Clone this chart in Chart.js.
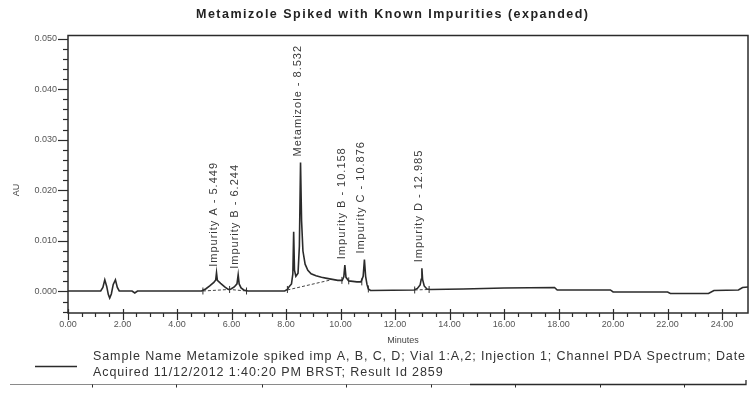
<!DOCTYPE html>
<html>
<head>
<meta charset="utf-8">
<title>Metamizole Spiked with Known Impurities (expanded)</title>
<script src="https://cdn.jsdelivr.net/npm/chart.js@4.4.1/dist/chart.umd.min.js"></script>
<style>
  html, body { margin: 0; padding: 0; background: #fff; }
  #wrap { width: 753px; height: 394px; }
</style>
</head>
<body>
<div id="wrap"><canvas id="chromChart" width="753" height="394"></canvas></div>
<script>
// PDA trace: retention time (min) and absorbance (AU)
const traceTime = [
  0.00, 1.20, 1.28, 1.35, 1.42, 1.48, 1.53, 1.59, 1.66, 1.74, 1.81, 1.88, 2.35, 2.45, 2.55,
  4.90, 5.05, 5.20, 5.35, 5.42, 5.449, 5.48, 5.60, 5.75, 5.88, 5.98, 6.10, 6.20, 6.244, 6.28, 6.35, 6.45, 6.60,
  7.95, 8.05, 8.12, 8.20, 8.25, 8.28, 8.31, 8.36, 8.44, 8.49, 8.532, 8.57, 8.62, 8.70, 8.80, 8.92,
  9.10, 9.30, 9.50, 9.70, 9.90, 10.06, 10.12, 10.158, 10.20, 10.30, 10.45, 10.60, 10.75, 10.83, 10.876,
  10.92, 10.97, 11.02, 11.10, 12.70, 12.82, 12.92, 12.96, 12.985, 13.01, 13.07, 13.17, 13.30,
  14.50, 16.00, 17.85, 17.95, 19.90, 20.00, 22.00, 22.10, 23.50, 23.70, 24.60, 24.75, 24.95
];
const traceAU = [
  0.0001, 0.0001, 0.0008, 0.0023, 0.0010, -0.0006, -0.0013, -0.0005, 0.0014, 0.0023, 0.0008, 0.0001, 0.0001, -0.0003, 0.0001,
  0.0001, 0.0005, 0.0011, 0.0018, 0.0023, 0.0037, 0.0022, 0.0016, 0.0009, 0.0004, 0.0005, 0.0009, 0.0015, 0.0033, 0.0015, 0.0007, 0.0003, 0.0001,
  0.0001, 0.0004, 0.0010, 0.0015, 0.0035, 0.0118, 0.0042, 0.0030, 0.0036, 0.0090, 0.0255, 0.0140, 0.0080, 0.0054, 0.0042, 0.0035,
  0.0031, 0.0028, 0.0026, 0.0024, 0.0022, 0.0022, 0.0029, 0.0052, 0.0028, 0.0021, 0.0020, 0.0019, 0.0019, 0.0030, 0.0063,
  0.0030, 0.0014, 0.0005, 0.0002, 0.0003, 0.0006, 0.0013, 0.0024, 0.0046, 0.0024, 0.0011, 0.0005, 0.0004,
  0.0005, 0.0007, 0.0008, 0.0003, 0.0003, -0.0001, -0.0001, -0.0004, -0.0004, 0.0002, 0.0003, 0.0008, 0.0009
];

// dashed integration baselines, null breaks between segments
const baseTime = [4.95, 5.93, 6.55, null, 8.05, 9.65, null, 12.72, 13.25];
const baseAU = [0.0001, 0.0004, 0.0001, null, 0.0003, 0.0023, null, 0.0003, 0.0004];

// peak start / end markers
const markTime = [4.95, 5.93, 6.55, 8.05, 10.05, 10.30, 10.78, 11.02, 12.72, 13.25];
const markAU = [0.0001, 0.0004, 0.0001, 0.0004, 0.0022, 0.0021, 0.0019, 0.0005, 0.0003, 0.0004];

// named peaks
const peakNames = ['Impurity A', 'Impurity B', 'Metamizole', 'Impurity B', 'Impurity C', 'Impurity D'];
const peakTimes = [5.449, 6.244, 8.532, 10.158, 10.876, 12.985];

const xTickValues = [0, 2, 4, 6, 8, 10, 12, 14, 16, 18, 20, 22, 24];
const yTickValues = [0, 0.010, 0.020, 0.030, 0.040, 0.050];

const titleText = 'Metamizole Spiked with Known Impurities (expanded)';
const legendLines = [
  'Sample Name Metamizole spiked imp A, B, C, D; Vial 1:A,2; Injection 1; Channel PDA Spectrum; Date',
  'Acquired 11/12/2012 1:40:20 PM BRST; Result Id 2859'
];

const FONT = '"Liberation Sans", Arial, sans-serif';
const INK = '#2b2b2b';

const trace = traceTime.map((t, i) => ({ x: t, y: traceAU[i] }));
const baselines = baseTime.map((t, i) => ({ x: t, y: baseAU[i] }));
const markers = markTime.map((t, i) => ({ x: t, y: markAU[i] }));
const peakApex = peakTimes.map(t => traceAU[traceTime.indexOf(t)]);

function spacedText(ctx, text, x, y, width) {
  ctx.letterSpacing = '0px';
  const w = ctx.measureText(text).width;
  const sp = width ? (width - w) / (text.length - 1) : 0;
  ctx.letterSpacing = sp + 'px';
  ctx.fillText(text, x, y);
  ctx.letterSpacing = '0px';
  return sp;
}

const decorations = {
  id: 'decorations',
  afterDraw(chart) {
    const { ctx, chartArea: a, scales: { x, y } } = chart;
    ctx.save();

    // plot frame
    ctx.strokeStyle = INK;
    ctx.lineWidth = 1.5;
    ctx.strokeRect(a.left, a.top, a.right - a.left, a.bottom - a.top);

    // y tick marks: major every 0.010, minor every 0.002
    ctx.lineWidth = 1.2;
    for (let v = -0.004; v <= 0.0505; v += 0.002) {
      const py = Math.round(y.getPixelForValue(v)) + 0.5;
      const major = Math.abs(v / 0.01 - Math.round(v / 0.01)) < 1e-6;
      ctx.beginPath();
      ctx.moveTo(a.left - (major ? 10 : 5), py);
      ctx.lineTo(a.left, py);
      ctx.stroke();
    }
    // x tick marks: major every 2 min, minor every 0.5 min
    for (let v = 0; v <= 24.9; v += 0.5) {
      const px = Math.round(x.getPixelForValue(v)) + 0.5;
      const major = Math.abs(v / 2 - Math.round(v / 2)) < 1e-6;
      ctx.beginPath();
      ctx.moveTo(px, a.bottom - (major ? 4 : 0));
      ctx.lineTo(px, a.bottom + (major ? 7 : 4));
      ctx.stroke();
    }

    // peak labels, rotated, sitting above each apex
    ctx.fillStyle = '#3a3a3a';
    ctx.font = '11px ' + FONT;
    ctx.textBaseline = 'middle';
    ctx.textAlign = 'left';
    peakNames.forEach((name, i) => {
      const px = x.getPixelForValue(peakTimes[i]);
      const py = y.getPixelForValue(peakApex[i]);
      ctx.save();
      ctx.translate(px - 3, py - 6);
      ctx.rotate(-Math.PI / 2);
      ctx.letterSpacing = '1px';
      ctx.fillText(name + ' - ' + peakTimes[i].toFixed(3), 0, 0);
      ctx.restore();
    });

    // title
    ctx.fillStyle = '#222';
    ctx.font = 'bold 12.5px ' + FONT;
    ctx.textAlign = 'left';
    ctx.textBaseline = 'alphabetic';
    spacedText(ctx, titleText, 196, 18, 392);

    // axis titles
    ctx.fillStyle = '#444';
    ctx.font = '9px ' + FONT;
    ctx.textAlign = 'center';
    ctx.textBaseline = 'middle';
    ctx.fillText('Minutes', 403, 341);
    ctx.save();
    ctx.translate(17, 190);
    ctx.rotate(-Math.PI / 2);
    ctx.fillText('AU', 0, 0);
    ctx.restore();

    // legend
    ctx.strokeStyle = INK;
    ctx.lineWidth = 1.3;
    ctx.beginPath();
    ctx.moveTo(35, 366.5);
    ctx.lineTo(77, 366.5);
    ctx.stroke();
    ctx.fillStyle = '#333';
    ctx.font = '12.5px ' + FONT;
    ctx.textAlign = 'left';
    ctx.textBaseline = 'alphabetic';
    const sp = spacedText(ctx, legendLines[0], 93, 360, 652);
    ctx.letterSpacing = sp + 'px';
    ctx.fillText(legendLines[1], 93, 376);
    ctx.letterSpacing = '0px';

    // top edge of the results table below
    ctx.strokeStyle = '#8a8a8a';
    ctx.lineWidth = 1;
    ctx.beginPath();
    ctx.moveTo(10, 384.5);
    ctx.lineTo(470, 384.5);
    ctx.stroke();
    ctx.strokeStyle = INK;
    ctx.lineWidth = 1.3;
    ctx.beginPath();
    ctx.moveTo(470, 384.5);
    ctx.lineTo(746, 384.5);
    ctx.lineTo(746, 380);
    ctx.stroke();
    ctx.lineWidth = 1;
    [92, 176, 262, 346, 431, 515, 600, 684].forEach(px => {
      ctx.beginPath();
      ctx.moveTo(px + 0.5, 384.5);
      ctx.lineTo(px + 0.5, 387.5);
      ctx.stroke();
    });

    ctx.restore();
  }
};

new Chart(document.getElementById('chromChart'), {
  type: 'scatter',
  data: {
    datasets: [
      {
        data: trace,
        showLine: true,
        borderColor: INK,
        borderWidth: 1.6,
        pointRadius: 0,
        tension: 0
      },
      {
        data: baselines,
        showLine: true,
        spanGaps: false,
        borderColor: '#444',
        borderWidth: 1,
        borderDash: [3, 2],
        pointRadius: 0
      },
      {
        data: markers,
        showLine: false,
        pointStyle: 'line',
        rotation: 90,
        pointRadius: 3.5,
        borderColor: '#333',
        borderWidth: 1
      }
    ]
  },
  options: {
    responsive: false,
    animation: false,
    events: [],
    layout: { padding: { top: 35.5, right: 2, bottom: 0, left: 0 } },
    plugins: {
      legend: { display: false },
      tooltip: { enabled: false },
      title: { display: false }
    },
    scales: {
      x: {
        type: 'linear',
        min: 0,
        max: 24.95,
        afterFit: (s) => { s.height = 81; },
        afterBuildTicks: (s) => { s.ticks = xTickValues.map(v => ({ value: v })); },
        ticks: {
          callback: (v) => v.toFixed(2),
          font: { family: FONT, size: 9 },
          color: '#555',
          padding: 6,
          maxRotation: 0,
          autoSkip: false
        },
        grid: { display: false, drawTicks: false },
        border: { display: false }
      },
      y: {
        min: -0.00425,
        max: 0.0506,
        afterFit: (s) => { s.width = 68; },
        afterBuildTicks: (s) => { s.ticks = yTickValues.map(v => ({ value: v })); },
        ticks: {
          callback: (v) => v.toFixed(3),
          font: { family: FONT, size: 9 },
          color: '#555',
          padding: 11
        },
        grid: { display: false, drawTicks: false },
        border: { display: false }
      }
    }
  },
  plugins: [decorations]
});
</script>
</body>
</html>
